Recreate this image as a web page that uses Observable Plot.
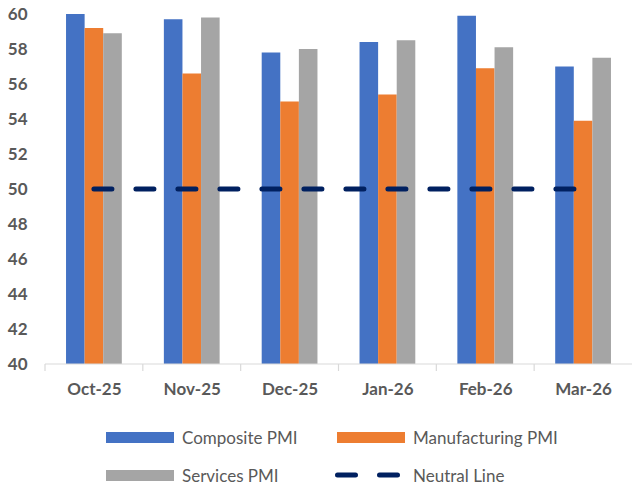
<!DOCTYPE html>
<html>
<head>
<meta charset="utf-8">
<script src="https://cdn.jsdelivr.net/npm/d3@7"></script>
<script src="https://cdn.jsdelivr.net/npm/@observablehq/plot@0.6"></script>
<style>
  html, body { margin: 0; padding: 0; background: #fff; }
  #wrap { width: 632px; height: 486px; position: relative; font-family: Lato, "Open Sans", sans-serif; }
  #legend { position: relative; width: 632px; height: 81px; }
  .item { position: absolute; display: flex; align-items: center; height: 20px; }
  .sw { width: 68px; height: 11px; margin-right: 8px; }
  .lbl { font-size: 17px; color: #595959; white-space: nowrap; }
</style>
</head>
<body>
<div id="wrap">
  <div id="chart"></div>
  <div id="legend"></div>
</div>
<script>
const months = ["Oct-25", "Nov-25", "Dec-25", "Jan-26", "Feb-26", "Mar-26"];
const seriesNames = ["Composite PMI", "Manufacturing PMI", "Services PMI"];
const composite = [60.0, 59.7, 57.8, 58.4, 59.9, 57.0];
const manufacturing = [59.2, 56.6, 55.0, 55.4, 56.9, 53.9];
const services = [58.9, 59.8, 58.0, 58.5, 58.1, 57.5];
const neutralLine = [50, 50, 50, 50, 50, 50];
const yTicks = [40, 42, 44, 46, 48, 50, 52, 54, 56, 58, 60];
const colors = ["#4472C4", "#ED7D31", "#A5A5A5"];
const neutralName = "Neutral Line";
const neutralColor = "#002060";

const seriesValues = [composite, manufacturing, services];
const data = months.flatMap((m, i) =>
  seriesNames.map((s, j) => ({ month: m, series: s, value: seriesValues[j][i] }))
);
const yMin = yTicks[0], yMax = yTicks[yTicks.length - 1];

const chart = Plot.plot({
  width: 632,
  height: 405,
  marginTop: 14,
  marginBottom: 41,
  marginLeft: 45,
  marginRight: 0,
  style: { fontFamily: "Lato, 'Open Sans', sans-serif", fontSize: "17px", fontWeight: "bold", color: "#595959", background: "#fff" },
  fx: { domain: months, paddingInner: 0.43, paddingOuter: 0.215, round: false, label: null, tickSize: 0, tickPadding: 18 },
  x: { domain: seriesNames, axis: null, padding: 0, round: false },
  y: { domain: [yMin, yMax], ticks: yTicks, tickSize: 0, tickPadding: 39, label: null },
  color: { domain: seriesNames, range: colors },
  marks: [
    Plot.barY(data, { fx: "month", x: "series", y1: () => yMin, y2: "value", fill: "series" })
  ]
});
document.getElementById("chart").appendChild(chart);

// Baseline, band-boundary ticks and the neutral line, positioned through Plot's own scales
const fxS = chart.scale("fx");
const yS = chart.scale("y");
const bandScale = d3.scaleBand().domain(fxS.domain).range(fxS.range)
  .paddingInner(fxS.paddingInner ?? 0.43).paddingOuter(fxS.paddingOuter ?? 0.215).align(fxS.align ?? 0.5);
const fxApply = fxS.apply ? (d) => fxS.apply(d) : (d) => bandScale(d);
const yApply = yS.apply ? (v) => yS.apply(v) : d3.scaleLinear().domain(yS.domain).range(yS.range);
const step = bandScale.step(), bw = bandScale.bandwidth();
const svg = d3.select(chart);
const y0 = yApply(yMin);
const gAxis = svg.append("g");
gAxis.append("line")
  .attr("x1", fxS.range[0]).attr("x2", fxS.range[1])
  .attr("y1", y0).attr("y2", y0)
  .attr("stroke", "#d9d9d9").attr("stroke-width", 1.2);
gAxis.selectAll("line.tk").data(months).join("line").attr("class", "tk")
  .attr("x1", d => fxApply(d) - (step - bw) / 2).attr("x2", d => fxApply(d) - (step - bw) / 2)
  .attr("y1", y0).attr("y2", y0 + 7)
  .attr("stroke", "#d9d9d9").attr("stroke-width", 1.2);

const line = d3.line().x((d, i) => fxApply(months[i]) + bw / 2).y(d => yApply(d));
svg.append("path")
  .attr("d", line(neutralLine))
  .attr("fill", "none")
  .attr("stroke", neutralColor)
  .attr("stroke-width", 5)
  .attr("stroke-linecap", "round")
  .attr("stroke-dasharray", "18,24");

// Legend
const legend = document.getElementById("legend");
const legendItems = [
  { name: seriesNames[0], color: colors[0], left: 106, top: 22, kind: "bar" },
  { name: seriesNames[1], color: colors[1], left: 337, top: 22, kind: "bar" },
  { name: seriesNames[2], color: colors[2], left: 106, top: 60, kind: "bar" },
  { name: neutralName, color: neutralColor, left: 335, top: 60, kind: "line" }
];
for (const it of legendItems) {
  const div = document.createElement("div");
  div.className = "item";
  div.style.left = it.left + "px";
  div.style.top = it.top + "px";
  if (it.kind === "bar") {
    const sw = document.createElement("div");
    sw.className = "sw";
    sw.style.background = it.color;
    div.appendChild(sw);
  } else {
    const ns = "http://www.w3.org/2000/svg";
    const s = document.createElementNS(ns, "svg");
    s.setAttribute("width", 70); s.setAttribute("height", 10);
    s.style.marginRight = "8px";
    const p = document.createElementNS(ns, "line");
    p.setAttribute("x1", 2.5); p.setAttribute("x2", 67); p.setAttribute("y1", 5); p.setAttribute("y2", 5);
    p.setAttribute("stroke", it.color); p.setAttribute("stroke-width", 5);
    p.setAttribute("stroke-linecap", "round"); p.setAttribute("stroke-dasharray", "18,24");
    s.appendChild(p);
    div.appendChild(s);
  }
  const t = document.createElement("span");
  t.className = "lbl";
  t.textContent = it.name;
  div.appendChild(t);
  legend.appendChild(div);
}
</script>
</body>
</html>
